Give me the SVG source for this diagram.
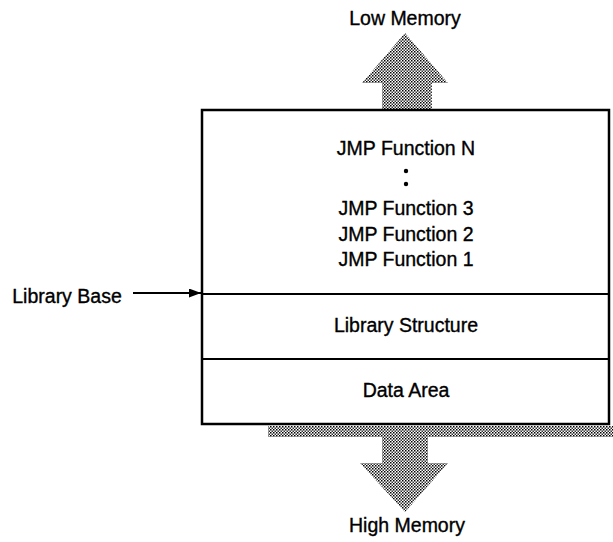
<svg xmlns="http://www.w3.org/2000/svg" width="613" height="542" viewBox="0 0 613 542">
<style>
text{font-family:"Liberation Sans",Arial,sans-serif;font-size:19.5px;fill:#000;stroke:#000;stroke-width:0.35;text-anchor:middle}
.box{fill:#fff;stroke:#000;stroke-width:2.5}
.div{stroke:#000;stroke-width:2}
.shade{fill:url(#dots)}
</style>
<defs>
<pattern id="dots" width="3" height="3" patternUnits="userSpaceOnUse">
<rect width="3" height="3" fill="#fff"/>
<rect x="0" y="0" width="1.5" height="1.5" fill="#000"/>
<rect x="1.5" y="1.5" width="1.5" height="1.5" fill="#333"/>
</pattern>
<marker id="ah" viewBox="0 0 12 9" refX="12" refY="4.5" markerWidth="14" markerHeight="9" markerUnits="userSpaceOnUse" orient="auto">
<path d="M0,0 L12,4.5 L0,9 Z" fill="#000"/>
</marker>
</defs>
<g id="shadow">
<rect class="shade" x="268" y="426" width="345" height="11"/>
</g>
<g id="low-memory">
<polygon class="shade" points="405,33 448,83 432,83 432,110 382,110 382,83 362,83"/>
<text x="405" y="25">Low Memory</text>
</g>
<g id="high-memory">
<polygon class="shade" points="382,437 428,437 428,463 448,463 405,512 360,463 382,463"/>
<text x="407" y="532">High Memory</text>
</g>
<g id="library">
<rect class="box" x="202" y="110" width="407" height="314"/>
<line class="div" x1="202" y1="294" x2="609" y2="294"/>
<line class="div" x1="202" y1="359" x2="609" y2="359"/>
</g>
<g id="jump-table">
<text x="406" y="155">JMP Function N</text>
<circle cx="406" cy="171" r="2.2"/>
<circle cx="406" cy="184" r="2.2"/>
<text x="406" y="215">JMP Function 3</text>
<text x="406" y="241">JMP Function 2</text>
<text x="406" y="266">JMP Function 1</text>
</g>
<g id="library-structure">
<text x="406" y="332">Library Structure</text>
</g>
<g id="data-area">
<text x="406" y="397">Data Area</text>
</g>
<g id="library-base">
<text x="67" y="303">Library Base</text>
</g>
<g id="connectors">
<line x1="133" y1="293" x2="201" y2="293" stroke="#000" stroke-width="2" marker-end="url(#ah)"/>
</g>
</svg>
